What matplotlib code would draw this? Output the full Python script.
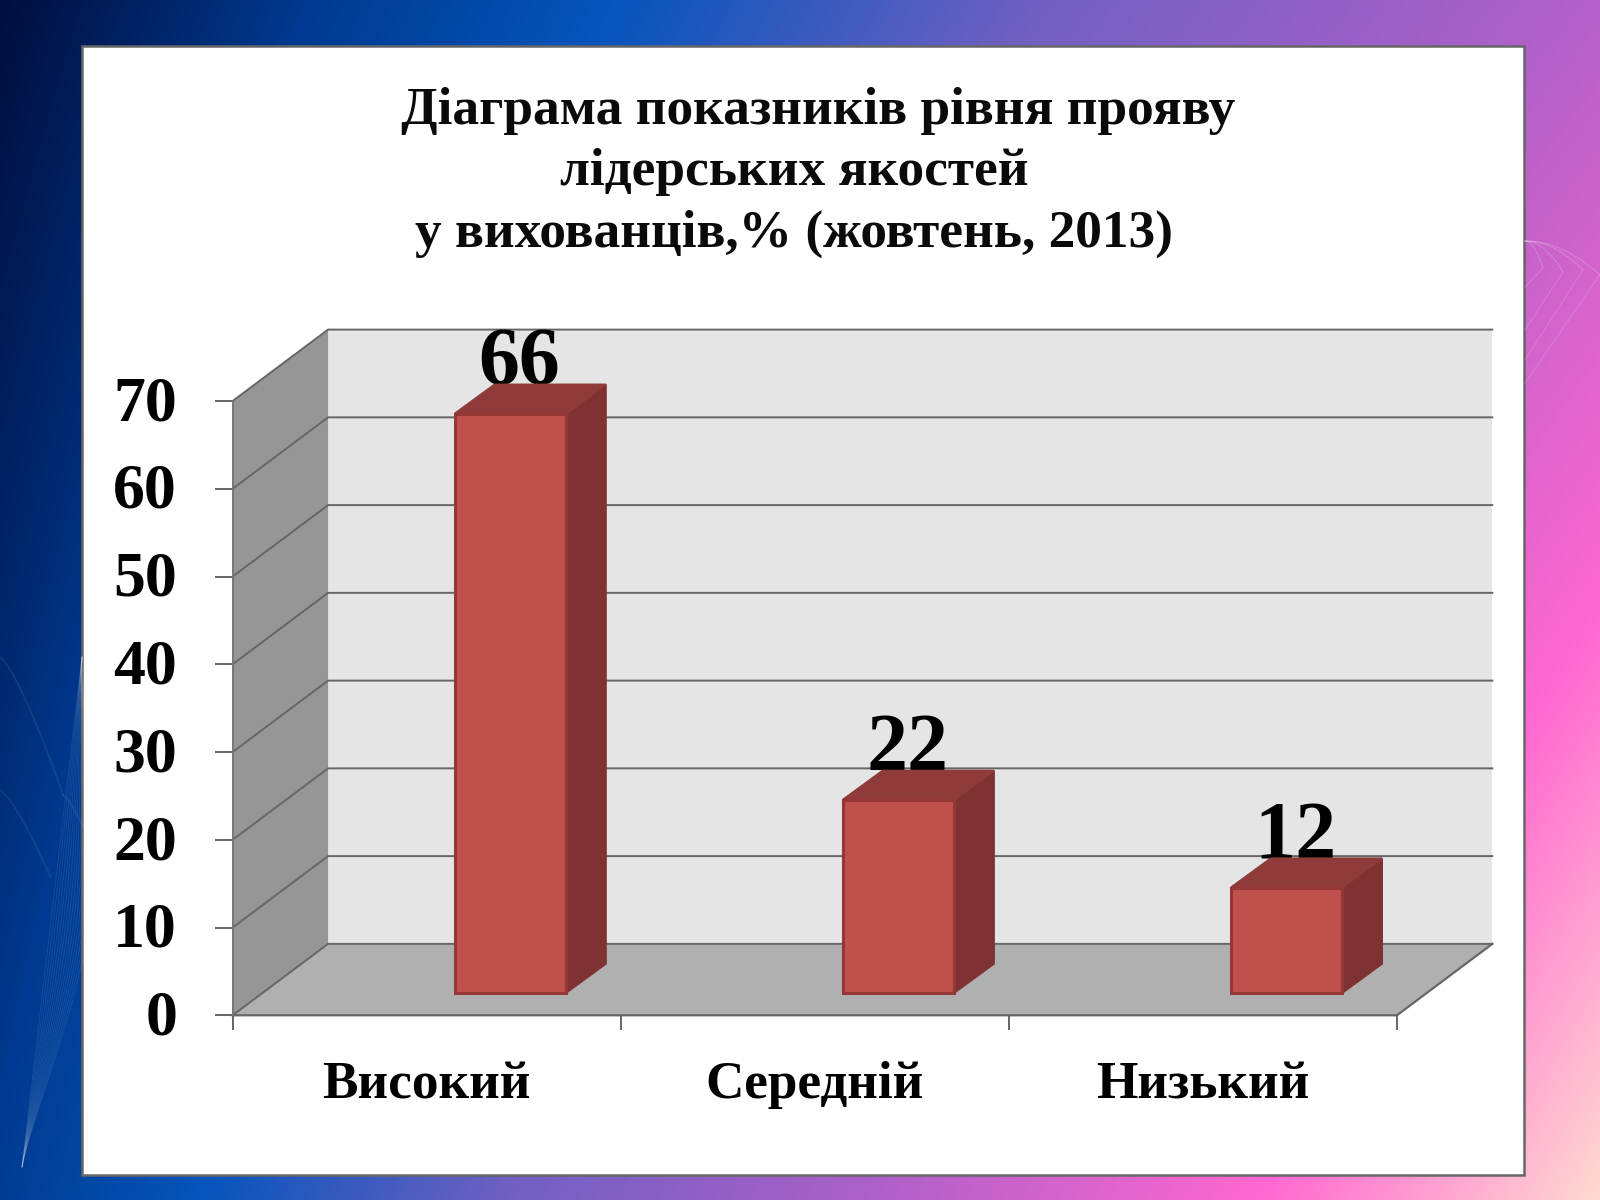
import numpy as np
import matplotlib
matplotlib.use("Agg")
import matplotlib.pyplot as plt
from matplotlib.colors import LinearSegmentedColormap
from matplotlib.patches import Rectangle

categories = ["Високий", "Середній", "Низький"]
values = [66, 22, 12]
yticks = [0, 10, 20, 30, 40, 50, 60, 70]
title_lines = ["Діаграма показників рівня прояву", "лідерських якостей", "у вихованців,% (жовтень, 2013)"]

plt.rcParams["font.family"] = ["Liberation Serif", "DejaVu Serif"]
plt.rcParams["font.weight"] = "bold"
W, H = 1600, 1200
fig = plt.figure(figsize=(16, 12), dpi=100)

# ---- slide background
bg = fig.add_axes([0, 0, 1, 1], zorder=-2)
bg.set_xlim(0, W); bg.set_ylim(H, 0); bg.axis("off")
yy, xx = np.mgrid[0:H:300j, 0:W:400j]
k = 0.28 + 0.53 * xx / W
t = xx + k * yy
t_end = W + 0.81 * H
stops = [(0, "#000f3f"), (306, "#003a90"), (612, "#0555bb"), (1040, "#7060c2"),
         (1530, "#aa60c8"), (2104, "#ff68d0"), (t_end, "#ffd8d0")]
cmap = LinearSegmentedColormap.from_list("g", [(s / t_end, c) for s, c in stops])
bg.imshow(t / t_end, cmap=cmap, vmin=0, vmax=1, extent=[0, W, H, 0], aspect="auto")

# faint wave decoration, left side
for j in range(16):
    s = np.linspace(0, 1, 60)
    bg.plot(22 + 60 * s + (j / 15) * 38 * np.sin(np.pi * s) ** 1.3, 1167 - 510 * s,
            color="white", lw=0.6, alpha=0.09)
for x0, y0, x1, y1 in [(0, 657, 63, 795), (0, 790, 50, 876), (63, 795, 85, 830)]:
    s = np.linspace(0, 1, 30)
    bg.plot(x0 + (x1 - x0) * s, y0 + (y1 - y0) * s ** 1.3, color="white", lw=1.4, alpha=0.07)
# faint wave decoration, right side
for xt, yt, ye in [(1543, 268, 287), (1563, 272, 330), (1583, 270, 360), (1600, 275, 383)]:
    s = np.linspace(0, 1, 30)
    bg.plot(1525 + (xt - 1525) * s ** 0.8, 241 + (yt - 241) * s ** 1.6, color="white", lw=0.8, alpha=0.2)
    bg.plot(xt + (1525 - xt) * s, yt + (ye - yt) * s, color="white", lw=0.8, alpha=0.15)
bg.add_patch(Rectangle((82, 46), 1441.5, 1129, fc="white", ec="#666666", lw=1.8))

# ---- chart axes = front plane of the 3D box
SX = 1.0204
L, R, T, B = 228 * SX, 1369 * SX, 393 * SX, 995 * SX
ax = fig.add_axes([L / W, 1 - B / H, (R - L) / W, (B - T) / H], facecolor="none")
ax.set_xlim(0, 3); ax.set_ylim(0, 70)
ux = (R - L) / 3      # px per category
uy = (B - T) / 70     # px per value
dx = 93.5 * SX / ux   # box depth in data units
dy = 70 * SX / uy

line = "#666666"
ax.fill([dx, 3 + dx, 3 + dx, dx], [dy, dy, 70 + dy, 70 + dy], color="#e5e5e5", lw=0, zorder=1, clip_on=False)
ax.fill([0, dx, dx, 0], [0, dy, 70 + dy, 70], color="#969696", lw=0, zorder=1, clip_on=False)
ax.fill([0, 3, 3 + dx, dx], [0, 0, dy, dy], color="#b0b0b0", lw=0, zorder=1, clip_on=False)
for v in yticks:
    ax.plot([0, dx, 3 + dx], [v, v + dy, v + dy], color=line, lw=1.4, zorder=2, clip_on=False,
            solid_joinstyle="miter")
ax.plot([0, 3, 3 + dx], [0, 0, dy], color=line, lw=1.6, zorder=2, clip_on=False)
ax.plot([0, 0], [0, 70], color="#777777", lw=1.4, zorder=2, clip_on=False)

# ---- bars
bw = 109 * SX / ux
off_x = 82 * SX / ux - bw / 2 + 0.5
bar_left = [i + off_x for i in range(3)]
base = 22 * SX / uy
ddx = 39 * SX / ux
ddy = 28.5 * SX / uy
edge = "#953735"
for x0, v in zip(bar_left, values):
    top = base + v
    ax.fill([x0 + bw, x0 + bw + ddx, x0 + bw + ddx, x0 + bw],
            [base, base + ddy, top + ddy, top], fc="#7f3232", ec="#7f3232", lw=1.5, zorder=3, clip_on=False)
    ax.fill([x0, x0 + ddx, x0 + bw + ddx, x0 + bw],
            [top, top + ddy, top + ddy, top], fc="#8f3b3a", ec="#8f3b3a", lw=1.5, zorder=3, clip_on=False)
    ax.bar(x0, v, width=bw, bottom=base, align="edge", fc="#c0504d", ec=edge, lw=2.2, zorder=4, clip_on=False)
    ax.text(x0 + bw / 2 + 9 * SX / ux, top + ddy - 2.0, str(v), ha="center", va="bottom", fontsize=59,
            color="black", zorder=2.5, clip_on=False)

# ---- axis furniture
for s in ["top", "right", "left", "bottom"]:
    ax.spines[s].set_visible(False)
ax.set_yticks(yticks)
ax.set_xticks([0, 1, 2, 3]); ax.set_xticklabels([])
ax.set_xticks([0.5, 1.5, 2.5], minor=True)
ax.set_xticklabels(categories, minor=True, fontsize=38.3, color="black")
ax.tick_params(axis="y", length=13, width=1.4, color=line, labelsize=46, pad=27, labelcolor="black")
for lab in ax.get_yticklabels():
    lab.set_transform(lab.get_transform() + matplotlib.transforms.ScaledTranslation(0, 2 / 72, fig.dpi_scale_trans))
ax.tick_params(axis="x", which="major", length=11, width=1.4, color=line, direction="out")
ax.tick_params(axis="x", which="minor", length=0, pad=33)

# ---- title
for txt, cx, cy in zip(title_lines, [802, 778, 778], [109, 169, 229]):
    fig.text(cx * SX / W, 1 - cy * SX / H, txt, ha="center", va="center", fontsize=38.4, color="#0a0a0a")

fig.savefig("out.png", dpi=100)
